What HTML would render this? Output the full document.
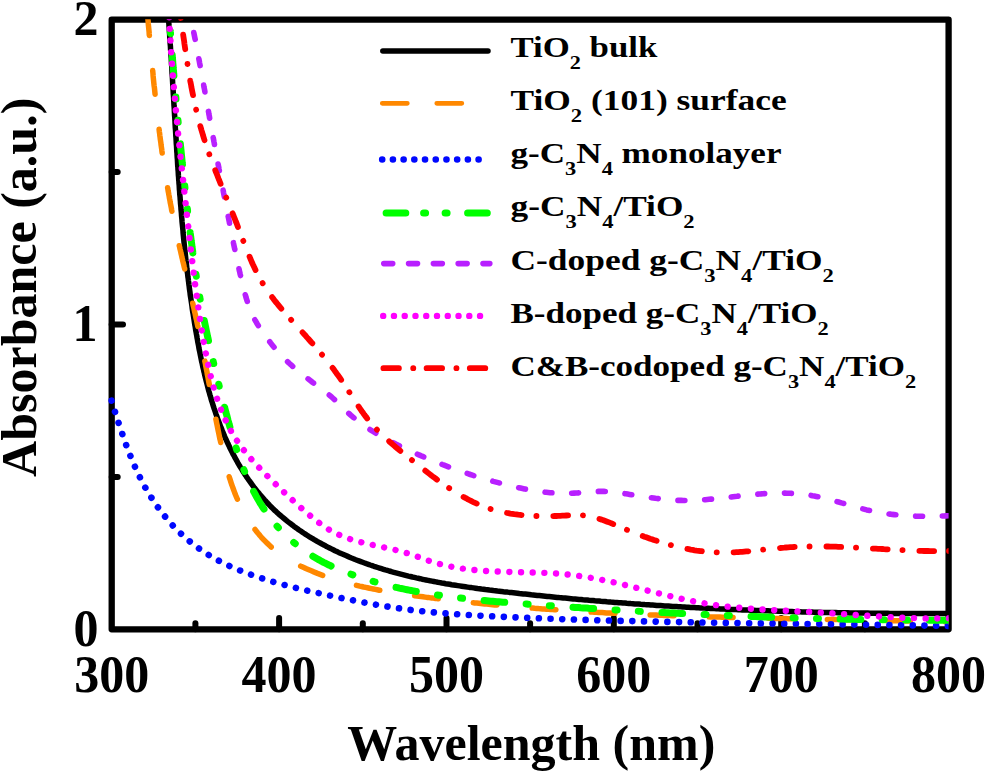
<!DOCTYPE html>
<html><head><meta charset="utf-8"><style>
html,body{margin:0;padding:0;background:#fff;width:987px;height:774px;overflow:hidden}
svg{display:block;font-family:"Liberation Serif",serif}
</style></head><body>
<svg width="987" height="774" viewBox="0 0 987 774">
<rect x="111.7" y="19.7" width="836.9" height="609.6" fill="none" stroke="#000" stroke-width="6.3" stroke-linejoin="round"/>
<g stroke="#000" stroke-width="6" stroke-linecap="round"><line x1="195.4" y1="629.3" x2="195.4" y2="623.3"/><line x1="279.1" y1="629.3" x2="279.1" y2="618.0"/><line x1="362.8" y1="629.3" x2="362.8" y2="623.3"/><line x1="446.5" y1="629.3" x2="446.5" y2="618.0"/><line x1="530.1" y1="629.3" x2="530.1" y2="623.3"/><line x1="613.8" y1="629.3" x2="613.8" y2="618.0"/><line x1="697.5" y1="629.3" x2="697.5" y2="623.3"/><line x1="781.2" y1="629.3" x2="781.2" y2="618.0"/><line x1="864.9" y1="629.3" x2="864.9" y2="623.3"/><line x1="111.7" y1="476.9" x2="117.7" y2="476.9"/><line x1="111.7" y1="324.5" x2="123.0" y2="324.5"/><line x1="111.7" y1="172.1" x2="117.7" y2="172.1"/></g>
<defs><clipPath id="pc"><rect x="108.2" y="19.2" width="840.4" height="621.6"/></clipPath></defs>
<g clip-path="url(#pc)">
<path d="M168.1,13.9 L168.3,15.9 L168.4,17.9 L168.6,19.9 L168.7,21.9 L168.9,23.9 L169.0,25.9 L169.2,27.9 L169.3,29.9 L169.4,31.9 L169.6,34.0 L169.7,36.0 L169.8,38.0 L170.0,40.0 L170.1,42.0 L170.2,44.0 L170.4,46.0 L170.5,48.0 L170.6,50.0 L170.8,52.0 L170.9,54.0 L171.0,56.0 L171.2,57.9 L171.3,59.9 L171.4,61.9 L171.5,63.9 L171.7,65.9 L171.8,67.9 L171.9,69.9 L172.0,71.9 L172.1,73.9 L172.3,75.9 L172.4,77.9 L172.5,79.9 L172.6,81.9 L172.7,83.9 L172.9,85.9 L173.0,87.9 L173.1,89.9 L173.2,91.9 L173.3,93.9 L173.5,95.9 L173.6,97.9 L173.7,99.9 L173.8,101.9 L173.9,103.9 L174.0,105.8 L174.2,107.8 L174.3,109.8 L174.4,111.8 L174.5,113.8 L174.6,115.8 L174.8,117.8 L174.9,119.8 L175.0,121.8 L175.1,123.8 L175.2,125.8 L175.3,127.8 L175.5,129.8 L175.6,131.7 L175.7,133.7 L175.8,135.7 L176.0,137.7 L176.1,139.7 L176.2,141.7 L176.3,143.7 L176.5,145.7 L176.6,147.7 L176.7,149.7 L176.8,151.6 L177.0,153.6 L177.1,155.6 L177.2,157.6 L177.4,159.6 L177.5,161.6 L177.6,163.6 L177.7,165.6 L177.9,167.6 L178.0,169.5 L178.2,171.5 L178.3,173.5 L178.4,175.5 L178.6,177.5 L178.7,179.5 L178.9,181.5 L179.0,183.5 L179.2,185.4 L179.3,187.4 L179.4,189.4 L179.6,191.4 L179.7,193.4 L179.9,195.4 L180.1,197.4 L180.2,199.3 L180.4,201.3 L180.5,203.3 L180.7,205.3 L180.9,207.3 L181.0,209.3 L181.2,211.2 L181.4,213.2 L181.5,215.2 L181.7,217.2 L181.9,219.2 L182.0,221.2 L182.2,223.2 L182.4,225.1 L182.6,227.1 L182.8,229.1 L183.0,231.1 L183.1,233.1 L183.3,235.1 L183.5,237.0 L183.7,239.0 L183.9,241.0 L184.1,243.0 L184.3,245.0 L184.5,246.9 L184.7,248.9 L184.9,250.9 L185.2,252.9 L185.4,254.9 L185.6,256.9 L185.8,258.8 L186.0,260.8 L186.3,262.8 L186.5,264.8 L186.7,266.8 L186.9,268.7 L187.2,270.7 L187.4,272.7 L187.7,274.7 L187.9,276.7 L188.2,278.6 L188.4,280.6 L188.7,282.6 L188.9,284.6 L189.2,286.6 L189.4,288.5 L189.7,290.5 L190.0,292.5 L190.2,294.5 L190.5,296.5 L190.8,298.4 L191.1,300.4 L191.4,302.4 L191.7,304.4 L192.0,306.4 L192.2,308.3 L192.5,310.3 L192.8,312.3 L193.2,314.3 L193.5,316.2 L193.8,318.2 L194.1,320.2 L194.4,322.2 L194.7,324.2 L195.1,326.1 L195.4,328.1 L195.7,330.1 L196.1,332.1 L196.4,334.0 L196.8,336.0 L197.1,338.0 L197.5,340.0 L197.8,342.0 L198.2,343.9 L198.6,345.9 L198.9,347.9 L199.3,349.9 L199.7,351.8 L200.1,353.8 L200.5,355.8 L200.9,357.7 L201.3,359.7 L201.7,361.7 L202.2,363.6 L202.6,365.6 L203.0,367.6 L203.5,369.5 L203.9,371.5 L204.4,373.4 L204.8,375.4 L205.3,377.4 L205.8,379.3 L206.3,381.2 L206.8,383.2 L207.3,385.1 L207.8,387.1 L208.3,389.0 L208.8,391.0 L209.4,392.9 L209.9,394.8 L210.5,396.7 L211.0,398.7 L211.6,400.6 L212.2,402.5 L212.8,404.4 L213.4,406.3 L214.0,408.2 L214.7,410.1 L215.3,412.0 L215.9,413.9 L216.6,415.8 L217.3,417.7 L218.0,419.6 L218.7,421.5 L219.4,423.3 L220.1,425.2 L220.8,427.1 L221.6,428.9 L222.3,430.8 L223.1,432.6 L223.9,434.5 L224.6,436.3 L225.4,438.2 L226.3,440.0 L227.1,441.8 L227.9,443.6 L228.8,445.4 L229.6,447.2 L230.5,449.0 L231.4,450.8 L232.3,452.6 L233.2,454.4 L234.2,456.1 L235.1,457.9 L236.1,459.6 L237.0,461.3 L238.0,463.1 L239.0,464.8 L240.0,466.5 L241.1,468.2 L242.1,469.9 L243.1,471.6 L244.2,473.2 L245.3,474.9 L246.4,476.6 L247.5,478.2 L248.6,479.8 L249.8,481.4 L250.9,483.0 L252.1,484.6 L253.2,486.2 L254.4,487.8 L255.6,489.3 L256.9,490.9 L258.1,492.4 L259.4,493.9 L260.6,495.4 L261.9,496.9 L263.2,498.4 L264.5,499.9 L265.9,501.3 L267.2,502.8 L268.6,504.2 L269.9,505.6 L271.3,507.0 L272.7,508.4 L274.1,509.8 L275.6,511.1 L277.0,512.4 L278.5,513.8 L280.0,515.1 L281.5,516.4 L283.0,517.6 L284.5,518.9 L286.0,520.2 L287.5,521.4 L289.1,522.6 L290.7,523.8 L292.3,525.0 L293.8,526.2 L295.4,527.4 L297.1,528.5 L298.7,529.7 L300.3,530.8 L302.0,531.9 L303.6,533.0 L305.3,534.1 L307.0,535.2 L308.7,536.3 L310.4,537.3 L312.1,538.3 L313.8,539.4 L315.5,540.4 L317.2,541.4 L319.0,542.4 L320.7,543.3 L322.5,544.3 L324.3,545.2 L326.0,546.2 L327.8,547.1 L329.6,548.0 L331.4,548.9 L333.2,549.8 L335.0,550.7 L336.8,551.5 L338.6,552.4 L340.4,553.2 L342.3,554.0 L344.1,554.8 L345.9,555.6 L347.8,556.4 L349.6,557.2 L351.5,558.0 L353.3,558.7 L355.2,559.5 L357.0,560.2 L358.9,560.9 L360.8,561.6 L362.6,562.3 L364.5,563.0 L366.4,563.7 L368.3,564.3 L370.2,565.0 L372.1,565.6 L373.9,566.3 L375.8,566.9 L377.7,567.5 L379.6,568.1 L381.5,568.7 L383.4,569.3 L385.4,569.9 L387.3,570.4 L389.2,571.0 L391.1,571.5 L393.0,572.1 L394.9,572.6 L396.9,573.1 L398.8,573.6 L400.7,574.1 L402.7,574.6 L404.6,575.1 L406.5,575.6 L408.5,576.1 L410.4,576.5 L412.4,577.0 L414.3,577.4 L416.3,577.9 L418.2,578.3 L420.2,578.7 L422.1,579.2 L424.1,579.6 L426.0,580.0 L428.0,580.4 L430.0,580.8 L431.9,581.1 L433.9,581.5 L435.9,581.9 L437.8,582.3 L439.8,582.6 L441.8,583.0 L443.7,583.3 L445.7,583.7 L447.7,584.0 L449.7,584.3 L451.6,584.7 L453.6,585.0 L455.6,585.3 L457.6,585.6 L459.6,585.9 L461.6,586.2 L463.5,586.5 L465.5,586.8 L467.5,587.1 L469.5,587.4 L471.5,587.6 L473.5,587.9 L475.5,588.2 L477.5,588.5 L479.5,588.7 L481.4,589.0 L483.4,589.2 L485.4,589.5 L487.4,589.7 L489.4,590.0 L491.4,590.2 L493.4,590.5 L495.4,590.7 L497.4,591.0 L499.4,591.2 L501.4,591.4 L503.4,591.7 L505.4,591.9 L507.4,592.1 L509.4,592.4 L511.4,592.6 L513.4,592.8 L515.4,593.0 L517.4,593.2 L519.3,593.5 L521.3,593.7 L523.3,593.9 L525.3,594.1 L527.3,594.3 L529.3,594.5 L531.3,594.8 L533.3,595.0 L535.3,595.2 L537.3,595.4 L539.3,595.6 L541.3,595.8 L543.3,596.0 L545.3,596.2 L547.3,596.4 L549.2,596.6 L551.2,596.8 L553.2,597.0 L555.2,597.2 L557.2,597.4 L559.2,597.6 L561.2,597.7 L563.2,597.9 L565.2,598.1 L567.2,598.3 L569.2,598.5 L571.1,598.7 L573.1,598.9 L575.1,599.0 L577.1,599.2 L579.1,599.4 L581.1,599.6 L583.1,599.8 L585.1,599.9 L587.1,600.1 L589.1,600.3 L591.0,600.4 L593.0,600.6 L595.0,600.8 L597.0,600.9 L599.0,601.1 L601.0,601.3 L603.0,601.4 L605.0,601.6 L607.0,601.8 L609.0,601.9 L610.9,602.1 L612.9,602.2 L614.9,602.4 L616.9,602.5 L618.9,602.7 L620.9,602.8 L622.9,603.0 L624.9,603.1 L626.8,603.3 L628.8,603.4 L630.8,603.6 L632.8,603.7 L634.8,603.9 L636.8,604.0 L638.8,604.1 L640.8,604.3 L642.8,604.4 L644.7,604.6 L646.7,604.7 L648.7,604.8 L650.7,605.0 L652.7,605.1 L654.7,605.2 L656.7,605.4 L658.7,605.5 L660.6,605.6 L662.6,605.7 L664.6,605.9 L666.6,606.0 L668.6,606.1 L670.6,606.2 L672.6,606.4 L674.6,606.5 L676.6,606.6 L678.5,606.7 L680.5,606.8 L682.5,606.9 L684.5,607.0 L686.5,607.2 L688.5,607.3 L690.5,607.4 L692.5,607.5 L694.4,607.6 L696.4,607.7 L698.4,607.8 L700.4,607.9 L702.4,608.0 L704.4,608.1 L706.4,608.2 L708.4,608.3 L710.4,608.4 L712.3,608.5 L714.3,608.6 L716.3,608.7 L718.3,608.8 L720.3,608.9 L722.3,609.0 L724.3,609.1 L726.3,609.2 L728.3,609.3 L730.3,609.4 L732.2,609.4 L734.2,609.5 L736.2,609.6 L738.2,609.7 L740.2,609.8 L742.2,609.9 L744.2,609.9 L746.2,610.0 L748.2,610.1 L750.2,610.2 L752.1,610.3 L754.1,610.3 L756.1,610.4 L758.1,610.5 L760.1,610.6 L762.1,610.6 L764.1,610.7 L766.1,610.8 L768.1,610.8 L770.1,610.9 L772.1,611.0 L774.0,611.0 L776.0,611.1 L778.0,611.2 L780.0,611.2 L782.0,611.3 L784.0,611.4 L786.0,611.4 L788.0,611.5 L790.0,611.5 L792.0,611.6 L794.0,611.7 L796.0,611.7 L798.0,611.8 L800.0,611.8 L802.0,611.9 L803.9,611.9 L805.9,612.0 L807.9,612.0 L809.9,612.1 L811.9,612.1 L813.9,612.2 L815.9,612.2 L817.9,612.3 L819.9,612.3 L821.9,612.4 L823.9,612.4 L825.9,612.4 L827.9,612.5 L829.9,612.5 L831.9,612.6 L833.9,612.6 L835.9,612.6 L837.9,612.7 L839.9,612.7 L841.9,612.7 L843.9,612.8 L845.9,612.8 L847.9,612.8 L849.9,612.9 L851.9,612.9 L853.9,612.9 L855.9,613.0 L857.9,613.0 L859.9,613.0 L861.9,613.1 L863.9,613.1 L865.9,613.1 L867.9,613.1 L869.9,613.2 L871.9,613.2 L873.9,613.2 L875.9,613.2 L877.9,613.3 L879.9,613.3 L881.9,613.3 L883.9,613.3 L885.9,613.3 L887.9,613.3 L889.9,613.4 L891.9,613.4 L893.9,613.4 L895.9,613.4 L897.9,613.4 L899.9,613.4 L901.9,613.4 L904.0,613.5 L906.0,613.5 L908.0,613.5 L910.0,613.5 L912.0,613.5 L914.0,613.5 L916.0,613.5 L918.0,613.5 L920.0,613.5 L922.0,613.5 L924.0,613.5 L926.0,613.5 L928.1,613.5 L930.1,613.5 L932.1,613.5 L934.1,613.5 L936.1,613.5 L938.1,613.5 L940.1,613.5 L942.1,613.5 L944.1,613.5 L946.2,613.5 L948.2,613.5 L950.2,613.5 L952.2,613.5" fill="none" stroke="#000000" stroke-width="5.5" stroke-linecap="round" stroke-linejoin="round"/>
<path d="M147.5,14.0 L147.6,16.0 L147.8,18.0 L148.0,20.0 L148.2,21.9 L148.3,23.9 L148.5,25.9 L148.7,27.9 L148.9,29.9 L149.1,31.9 L149.2,33.9 L149.4,35.9 L149.6,37.9 L149.8,39.9 L150.0,41.9 L150.1,43.9 L150.3,45.8 L150.5,47.8 L150.7,49.8 L150.9,51.8 L151.1,53.8 L151.2,55.8 L151.4,57.8 L151.6,59.8 L151.8,61.8 L152.0,63.8 L152.2,65.8 L152.4,67.7 L152.6,69.7 L152.8,71.7 L153.0,73.7 L153.1,75.7 L153.3,77.7 L153.5,79.7 L153.7,81.7 L153.9,83.7 L154.1,85.6 L154.4,87.6 L154.6,89.6 L154.8,91.6 L155.0,93.6 L155.2,95.6 L155.4,97.6 L155.6,99.6 L155.8,101.5 L156.0,103.5 L156.3,105.5 L156.5,107.5 L156.7,109.5 L156.9,111.5 L157.2,113.5 L157.4,115.4 L157.6,117.4 L157.9,119.4 L158.1,121.4 L158.3,123.4 L158.6,125.4 L158.8,127.4 L159.1,129.3 L159.3,131.3 L159.6,133.3 L159.8,135.3 L160.1,137.3 L160.3,139.2 L160.6,141.2 L160.9,143.2 L161.1,145.2 L161.4,147.2 L161.7,149.1 L161.9,151.1 L162.2,153.1 L162.5,155.1 L162.8,157.0 L163.1,159.0 L163.4,161.0 L163.6,163.0 L163.9,165.0 L164.2,166.9 L164.5,168.9 L164.9,170.9 L165.2,172.8 L165.5,174.8 L165.8,176.8 L166.1,178.8 L166.4,180.7 L166.8,182.7 L167.1,184.7 L167.4,186.6 L167.8,188.6 L168.1,190.6 L168.5,192.6 L168.8,194.5 L169.2,196.5 L169.5,198.5 L169.9,200.4 L170.2,202.4 L170.6,204.3 L171.0,206.3 L171.4,208.3 L171.7,210.2 L172.1,212.2 L172.5,214.2 L172.9,216.1 L173.3,218.1 L173.7,220.0 L174.1,222.0 L174.5,224.0 L174.9,225.9 L175.4,227.9 L175.8,229.8 L176.2,231.8 L176.6,233.7 L177.1,235.7 L177.5,237.6 L177.9,239.6 L178.4,241.6 L178.8,243.5 L179.2,245.5 L179.7,247.4 L180.1,249.4 L180.6,251.3 L181.0,253.3 L181.5,255.2 L181.9,257.2 L182.4,259.1 L182.8,261.1 L183.3,263.0 L183.8,265.0 L184.2,266.9 L184.7,268.9 L185.1,270.8 L185.6,272.8 L186.0,274.7 L186.5,276.7 L187.0,278.6 L187.4,280.6 L187.9,282.5 L188.3,284.4 L188.8,286.4 L189.3,288.3 L189.7,290.3 L190.2,292.2 L190.6,294.2 L191.1,296.1 L191.5,298.1 L192.0,300.0 L192.4,302.0 L192.9,303.9 L193.3,305.9 L193.8,307.8 L194.2,309.8 L194.6,311.7 L195.1,313.6 L195.5,315.6 L195.9,317.5 L196.4,319.5 L196.8,321.4 L197.2,323.4 L197.6,325.3 L198.1,327.3 L198.5,329.2 L198.9,331.2 L199.3,333.1 L199.7,335.1 L200.1,337.0 L200.5,339.0 L200.9,340.9 L201.3,342.9 L201.7,344.8 L202.1,346.8 L202.4,348.7 L202.8,350.7 L203.2,352.6 L203.6,354.6 L204.0,356.5 L204.4,358.5 L204.7,360.4 L205.1,362.4 L205.5,364.3 L205.8,366.3 L206.2,368.2 L206.6,370.2 L207.0,372.1 L207.3,374.1 L207.7,376.0 L208.1,378.0 L208.4,379.9 L208.8,381.9 L209.2,383.9 L209.5,385.8 L209.9,387.8 L210.3,389.7 L210.6,391.7 L211.0,393.7 L211.4,395.6 L211.8,397.6 L212.1,399.5 L212.5,401.5 L212.9,403.5 L213.2,405.4 L213.6,407.4 L214.0,409.4 L214.4,411.3 L214.8,413.3 L215.1,415.3 L215.5,417.2 L215.9,419.2 L216.3,421.2 L216.7,423.2 L217.1,425.1 L217.5,427.1 L217.9,429.1 L218.3,431.1 L218.7,433.0 L219.1,435.0 L219.5,437.0 L219.9,439.0 L220.4,440.9 L220.8,442.9 L221.2,444.9 L221.6,446.9 L222.1,448.9 L222.5,450.9 L223.0,452.8 L223.4,454.8 L223.9,456.8 L224.4,458.8 L224.8,460.7 L225.3,462.7 L225.8,464.7 L226.3,466.6 L226.9,468.6 L227.4,470.5 L228.0,472.5 L228.5,474.4 L229.1,476.4 L229.7,478.3 L230.3,480.2 L230.9,482.1 L231.5,484.0 L232.2,485.9 L232.9,487.8 L233.6,489.7 L234.3,491.6 L235.0,493.5 L235.7,495.3 L236.5,497.2 L237.3,499.0 L238.1,500.8 L238.9,502.6 L239.8,504.4 L240.7,506.2 L241.5,508.0 L242.5,509.8 L243.4,511.5 L244.4,513.3 L245.3,515.0 L246.3,516.7 L247.4,518.4 L248.4,520.0 L249.5,521.7 L250.6,523.3 L251.7,525.0 L252.8,526.6 L254.0,528.2 L255.2,529.7 L256.4,531.3 L257.6,532.8 L258.9,534.3 L260.1,535.8 L261.4,537.3 L262.7,538.7 L264.1,540.1 L265.5,541.5 L266.8,542.9 L268.3,544.2 L269.7,545.6 L271.1,546.9 L272.6,548.1 L274.1,549.4 L275.7,550.6 L277.2,551.8 L278.8,553.0 L280.4,554.1 L282.0,555.3 L283.6,556.4 L285.3,557.4 L287.0,558.5 L288.7,559.5 L290.4,560.5 L292.1,561.5 L293.8,562.5 L295.6,563.4 L297.3,564.4 L299.1,565.3 L300.9,566.2 L302.7,567.0 L304.5,567.9 L306.4,568.7 L308.2,569.5 L310.1,570.3 L311.9,571.1 L313.8,571.9 L315.6,572.6 L317.5,573.4 L319.4,574.1 L321.3,574.8 L323.2,575.5 L325.1,576.1 L326.9,576.8 L328.8,577.4 L330.8,578.1 L332.7,578.7 L334.6,579.3 L336.5,579.9 L338.4,580.5 L340.3,581.0 L342.2,581.6 L344.2,582.1 L346.1,582.7 L348.0,583.2 L350.0,583.7 L351.9,584.2 L353.8,584.7 L355.8,585.2 L357.7,585.6 L359.7,586.1 L361.6,586.5 L363.6,587.0 L365.6,587.4 L367.5,587.8 L369.5,588.2 L371.4,588.6 L373.4,589.0 L375.4,589.4 L377.3,589.8 L379.3,590.2 L381.3,590.5 L383.3,590.9 L385.2,591.2 L387.2,591.6 L389.2,591.9 L391.2,592.2 L393.2,592.6 L395.1,592.9 L397.1,593.2 L399.1,593.5 L401.1,593.8 L403.1,594.1 L405.1,594.4 L407.1,594.7 L409.0,595.0 L411.0,595.2 L413.0,595.5 L415.0,595.8 L417.0,596.1 L419.0,596.3 L421.0,596.6 L423.0,596.8 L425.0,597.1 L427.0,597.4 L429.0,597.6 L431.0,597.9 L432.9,598.1 L434.9,598.4 L436.9,598.6 L438.9,598.9 L440.9,599.1 L442.9,599.3 L444.9,599.6 L446.9,599.8 L448.9,600.0 L450.9,600.3 L452.9,600.5 L454.9,600.7 L456.8,601.0 L458.8,601.2 L460.8,601.4 L462.8,601.6 L464.8,601.8 L466.8,602.0 L468.8,602.3 L470.8,602.5 L472.8,602.7 L474.8,602.9 L476.8,603.1 L478.8,603.3 L480.8,603.5 L482.7,603.7 L484.7,603.9 L486.7,604.1 L488.7,604.3 L490.7,604.5 L492.7,604.7 L494.7,604.9 L496.7,605.0 L498.7,605.2 L500.7,605.4 L502.7,605.6 L504.7,605.8 L506.7,605.9 L508.6,606.1 L510.6,606.3 L512.6,606.5 L514.6,606.6 L516.6,606.8 L518.6,607.0 L520.6,607.1 L522.6,607.3 L524.6,607.5 L526.6,607.6 L528.6,607.8 L530.6,608.0 L532.6,608.1 L534.6,608.3 L536.6,608.4 L538.5,608.6 L540.5,608.7 L542.5,608.9 L544.5,609.0 L546.5,609.2 L548.5,609.3 L550.5,609.4 L552.5,609.6 L554.5,609.7 L556.5,609.9 L558.5,610.0 L560.5,610.1 L562.5,610.3 L564.5,610.4 L566.5,610.5 L568.4,610.7 L570.4,610.8 L572.4,610.9 L574.4,611.0 L576.4,611.2 L578.4,611.3 L580.4,611.4 L582.4,611.5 L584.4,611.6 L586.4,611.8 L588.4,611.9 L590.4,612.0 L592.4,612.1 L594.4,612.2 L596.4,612.3 L598.4,612.4 L600.3,612.5 L602.3,612.6 L604.3,612.7 L606.3,612.9 L608.3,613.0 L610.3,613.1 L612.3,613.2 L614.3,613.3 L616.3,613.4 L618.3,613.5 L620.3,613.5 L622.3,613.6 L624.3,613.7 L626.3,613.8 L628.3,613.9 L630.3,614.0 L632.3,614.1 L634.3,614.2 L636.2,614.3 L638.2,614.4 L640.2,614.4 L642.2,614.5 L644.2,614.6 L646.2,614.7 L648.2,614.8 L650.2,614.9 L652.2,614.9 L654.2,615.0 L656.2,615.1 L658.2,615.2 L660.2,615.2 L662.2,615.3 L664.2,615.4 L666.2,615.5 L668.2,615.5 L670.2,615.6 L672.2,615.7 L674.2,615.7 L676.2,615.8 L678.1,615.9 L680.1,616.0 L682.1,616.0 L684.1,616.1 L686.1,616.1 L688.1,616.2 L690.1,616.3 L692.1,616.3 L694.1,616.4 L696.1,616.5 L698.1,616.5 L700.1,616.6 L702.1,616.6 L704.1,616.7 L706.1,616.8 L708.1,616.8 L710.1,616.9 L712.1,616.9 L714.1,617.0 L716.1,617.0 L718.1,617.1 L720.1,617.1 L722.1,617.2 L724.1,617.2 L726.1,617.3 L728.1,617.3 L730.1,617.4 L732.1,617.4 L734.0,617.5 L736.0,617.5 L738.0,617.6 L740.0,617.6 L742.0,617.7 L744.0,617.7 L746.0,617.8 L748.0,617.8 L750.0,617.9 L752.0,617.9 L754.0,618.0 L756.0,618.0 L758.0,618.0 L760.0,618.1 L762.0,618.1 L764.0,618.2 L766.0,618.2 L768.0,618.3 L770.0,618.3 L772.0,618.3 L774.0,618.4 L776.0,618.4 L778.0,618.5 L780.0,618.5 L782.0,618.5 L784.0,618.6 L786.0,618.6 L788.0,618.7 L790.0,618.7 L792.0,618.7 L794.0,618.8 L796.0,618.8 L798.0,618.9 L800.0,618.9 L802.0,618.9 L804.0,619.0 L806.0,619.0 L808.0,619.0 L810.0,619.1 L812.0,619.1 L814.0,619.2 L816.0,619.2 L818.0,619.2 L820.0,619.3 L822.0,619.3 L824.0,619.3 L826.0,619.4 L828.0,619.4 L830.0,619.5 L832.0,619.5 L834.0,619.5 L836.0,619.6 L838.0,619.6 L840.0,619.6 L842.0,619.7 L844.0,619.7 L846.0,619.8 L848.0,619.8 L850.0,619.8 L852.0,619.9 L854.0,619.9 L856.0,619.9 L858.0,620.0 L860.0,620.0 L862.0,620.1 L864.0,620.1 L866.0,620.1 L868.0,620.2 L870.0,620.2 L872.0,620.3 L874.0,620.3 L876.0,620.3 L878.0,620.4 L880.0,620.4 L882.0,620.5 L884.0,620.5 L886.0,620.5 L888.0,620.6 L890.0,620.6 L892.0,620.7 L894.0,620.7 L896.0,620.7 L898.0,620.8 L900.0,620.8 L902.0,620.9 L904.0,620.9 L906.0,621.0 L908.0,621.0 L910.0,621.1 L912.0,621.1 L914.0,621.2 L916.0,621.2 L918.0,621.2 L920.0,621.3 L922.0,621.3 L924.0,621.4 L926.0,621.4 L928.0,621.5 L930.0,621.5 L932.0,621.6 L934.0,621.6 L936.0,621.7 L938.0,621.8 L940.0,621.8 L942.1,621.9 L944.1,621.9 L946.1,622.0 L948.1,622.0 L950.1,622.1 L952.1,622.1" fill="none" stroke="#ff8800" stroke-width="5.5" stroke-linecap="round" stroke-linejoin="round" stroke-dasharray="23.85 35.26" stroke-dashoffset="2.28"/>
<path d="M110.7,398.2 L111.3,400.0 L111.9,401.9 L112.5,403.7 L113.1,405.6 L113.6,407.4 L114.2,409.3 L114.8,411.2 L115.4,413.0 L116.0,414.9 L116.6,416.8 L117.2,418.7 L117.8,420.6 L118.4,422.5 L119.1,424.4 L119.7,426.3 L120.3,428.1 L121.0,430.0 L121.6,431.9 L122.3,433.9 L122.9,435.8 L123.6,437.7 L124.2,439.6 L124.9,441.5 L125.6,443.4 L126.3,445.3 L127.0,447.1 L127.7,449.0 L128.5,450.9 L129.2,452.8 L129.9,454.7 L130.7,456.6 L131.5,458.5 L132.2,460.3 L133.0,462.2 L133.8,464.1 L134.6,465.9 L135.4,467.8 L136.3,469.6 L137.1,471.4 L138.0,473.3 L138.8,475.1 L139.7,476.9 L140.6,478.7 L141.5,480.5 L142.5,482.3 L143.4,484.0 L144.4,485.8 L145.3,487.6 L146.3,489.3 L147.3,491.0 L148.3,492.7 L149.4,494.5 L150.4,496.1 L151.5,497.8 L152.6,499.5 L153.7,501.2 L154.8,502.8 L155.9,504.4 L157.0,506.1 L158.2,507.7 L159.4,509.3 L160.5,510.8 L161.7,512.4 L163.0,514.0 L164.2,515.5 L165.4,517.0 L166.7,518.6 L168.0,520.0 L169.3,521.5 L170.6,523.0 L171.9,524.5 L173.2,525.9 L174.6,527.3 L175.9,528.7 L177.3,530.1 L178.7,531.5 L180.1,532.9 L181.6,534.2 L183.0,535.5 L184.4,536.8 L185.9,538.1 L187.4,539.4 L188.9,540.7 L190.4,541.9 L191.9,543.2 L193.4,544.4 L195.0,545.6 L196.6,546.7 L198.1,547.9 L199.7,549.0 L201.3,550.2 L202.9,551.3 L204.6,552.4 L206.2,553.4 L207.9,554.5 L209.6,555.5 L211.2,556.5 L212.9,557.5 L214.7,558.5 L216.4,559.4 L218.1,560.4 L219.9,561.3 L221.6,562.2 L223.4,563.1 L225.2,564.0 L227.0,564.8 L228.8,565.7 L230.6,566.5 L232.4,567.3 L234.2,568.1 L236.0,568.9 L237.9,569.7 L239.7,570.4 L241.6,571.2 L243.5,571.9 L245.3,572.6 L247.2,573.3 L249.1,574.0 L251.0,574.7 L252.9,575.4 L254.8,576.0 L256.7,576.7 L258.6,577.3 L260.6,577.9 L262.5,578.5 L264.4,579.2 L266.3,579.8 L268.3,580.3 L270.2,580.9 L272.1,581.5 L274.1,582.1 L276.0,582.6 L278.0,583.2 L279.9,583.7 L281.9,584.2 L283.8,584.8 L285.8,585.3 L287.7,585.8 L289.7,586.3 L291.6,586.8 L293.6,587.3 L295.6,587.8 L297.5,588.3 L299.5,588.7 L301.4,589.2 L303.4,589.7 L305.4,590.1 L307.3,590.6 L309.3,591.0 L311.3,591.5 L313.2,591.9 L315.2,592.4 L317.2,592.8 L319.1,593.2 L321.1,593.7 L323.1,594.1 L325.0,594.5 L327.0,594.9 L329.0,595.4 L330.9,595.8 L332.9,596.2 L334.8,596.6 L336.8,597.0 L338.8,597.4 L340.7,597.9 L342.7,598.3 L344.6,598.7 L346.6,599.1 L348.6,599.5 L350.5,599.9 L352.5,600.2 L354.4,600.6 L356.4,601.0 L358.3,601.4 L360.3,601.8 L362.3,602.2 L364.2,602.5 L366.2,602.9 L368.1,603.3 L370.1,603.6 L372.0,604.0 L374.0,604.3 L376.0,604.7 L377.9,605.0 L379.9,605.4 L381.8,605.7 L383.8,606.0 L385.8,606.3 L387.7,606.6 L389.7,607.0 L391.6,607.3 L393.6,607.6 L395.6,607.8 L397.5,608.1 L399.5,608.4 L401.5,608.7 L403.4,609.0 L405.4,609.2 L407.4,609.5 L409.3,609.7 L411.3,610.0 L413.3,610.2 L415.3,610.4 L417.2,610.7 L419.2,610.9 L421.2,611.1 L423.2,611.3 L425.1,611.5 L427.1,611.7 L429.1,611.9 L431.1,612.1 L433.1,612.3 L435.0,612.5 L437.0,612.7 L439.0,612.8 L441.0,613.0 L443.0,613.2 L445.0,613.3 L446.9,613.5 L448.9,613.7 L450.9,613.8 L452.9,614.0 L454.9,614.1 L456.9,614.2 L458.9,614.4 L460.9,614.5 L462.8,614.7 L464.8,614.8 L466.8,614.9 L468.8,615.0 L470.8,615.2 L472.8,615.3 L474.8,615.4 L476.8,615.5 L478.8,615.6 L480.8,615.7 L482.8,615.8 L484.8,615.9 L486.7,616.0 L488.7,616.1 L490.7,616.2 L492.7,616.3 L494.7,616.4 L496.7,616.5 L498.7,616.6 L500.7,616.7 L502.7,616.8 L504.7,616.9 L506.7,617.0 L508.7,617.1 L510.7,617.2 L512.7,617.2 L514.7,617.3 L516.7,617.4 L518.7,617.5 L520.7,617.6 L522.6,617.7 L524.6,617.7 L526.6,617.8 L528.6,617.9 L530.6,618.0 L532.6,618.1 L534.6,618.1 L536.6,618.2 L538.6,618.3 L540.6,618.4 L542.6,618.4 L544.6,618.5 L546.6,618.6 L548.6,618.7 L550.6,618.7 L552.6,618.8 L554.6,618.9 L556.6,619.0 L558.6,619.0 L560.6,619.1 L562.6,619.2 L564.6,619.2 L566.6,619.3 L568.6,619.4 L570.6,619.4 L572.5,619.5 L574.5,619.6 L576.5,619.6 L578.5,619.7 L580.5,619.7 L582.5,619.8 L584.5,619.9 L586.5,619.9 L588.5,620.0 L590.5,620.0 L592.5,620.1 L594.5,620.2 L596.5,620.2 L598.5,620.3 L600.5,620.3 L602.5,620.4 L604.5,620.4 L606.5,620.5 L608.5,620.5 L610.5,620.6 L612.5,620.6 L614.5,620.7 L616.5,620.8 L618.5,620.8 L620.5,620.9 L622.5,620.9 L624.5,621.0 L626.5,621.0 L628.5,621.0 L630.5,621.1 L632.5,621.1 L634.5,621.2 L636.5,621.2 L638.4,621.3 L640.4,621.3 L642.4,621.4 L644.4,621.4 L646.4,621.5 L648.4,621.5 L650.4,621.5 L652.4,621.6 L654.4,621.6 L656.4,621.7 L658.4,621.7 L660.4,621.8 L662.4,621.8 L664.4,621.8 L666.4,621.9 L668.4,621.9 L670.4,622.0 L672.4,622.0 L674.4,622.0 L676.4,622.1 L678.4,622.1 L680.4,622.1 L682.4,622.2 L684.4,622.2 L686.4,622.2 L688.4,622.3 L690.4,622.3 L692.4,622.4 L694.4,622.4 L696.4,622.4 L698.4,622.5 L700.4,622.5 L702.4,622.5 L704.4,622.6 L706.4,622.6 L708.4,622.6 L710.4,622.7 L712.4,622.7 L714.4,622.7 L716.4,622.7 L718.4,622.8 L720.4,622.8 L722.4,622.8 L724.4,622.9 L726.4,622.9 L728.4,622.9 L730.4,623.0 L732.3,623.0 L734.3,623.0 L736.3,623.0 L738.3,623.1 L740.3,623.1 L742.3,623.1 L744.3,623.2 L746.3,623.2 L748.3,623.2 L750.3,623.2 L752.3,623.3 L754.3,623.3 L756.3,623.3 L758.3,623.3 L760.3,623.4 L762.3,623.4 L764.3,623.4 L766.3,623.5 L768.3,623.5 L770.3,623.5 L772.3,623.5 L774.3,623.6 L776.3,623.6 L778.3,623.6 L780.3,623.6 L782.3,623.7 L784.3,623.7 L786.3,623.7 L788.3,623.7 L790.3,623.8 L792.3,623.8 L794.3,623.8 L796.3,623.8 L798.3,623.9 L800.3,623.9 L802.3,623.9 L804.3,623.9 L806.3,624.0 L808.3,624.0 L810.3,624.0 L812.3,624.0 L814.3,624.1 L816.3,624.1 L818.3,624.1 L820.2,624.1 L822.2,624.2 L824.2,624.2 L826.2,624.2 L828.2,624.2 L830.2,624.3 L832.2,624.3 L834.2,624.3 L836.2,624.3 L838.2,624.4 L840.2,624.4 L842.2,624.4 L844.2,624.4 L846.2,624.5 L848.2,624.5 L850.2,624.5 L852.2,624.5 L854.2,624.6 L856.2,624.6 L858.2,624.6 L860.2,624.6 L862.2,624.7 L864.2,624.7 L866.2,624.7 L868.2,624.8 L870.2,624.8 L872.2,624.8 L874.2,624.8 L876.2,624.9 L878.2,624.9 L880.2,624.9 L882.1,624.9 L884.1,625.0 L886.1,625.0 L888.1,625.0 L890.1,625.1 L892.1,625.1 L894.1,625.1 L896.1,625.2 L898.1,625.2 L900.1,625.2 L902.1,625.2 L904.1,625.3 L906.1,625.3 L908.1,625.3 L910.1,625.4 L912.1,625.4 L914.1,625.4 L916.1,625.5 L918.1,625.5 L920.1,625.5 L922.1,625.6 L924.1,625.6 L926.1,625.6 L928.0,625.7 L930.0,625.7 L932.0,625.7 L934.0,625.8 L936.0,625.8 L938.0,625.8 L940.0,625.9 L942.0,625.9 L944.0,626.0 L946.0,626.0 L948.0,626.0 L950.0,626.1 L952.0,626.1" fill="none" stroke="#0008ff" stroke-width="6.6" stroke-linecap="round" stroke-linejoin="round" stroke-dasharray="0.01 11.68" stroke-dashoffset="9.10"/>
<path d="M169.2,14.1 L169.3,16.1 L169.4,18.0 L169.6,20.0 L169.7,22.0 L169.9,24.0 L170.0,26.0 L170.1,28.0 L170.3,30.0 L170.4,32.0 L170.6,34.0 L170.7,36.0 L170.9,37.9 L171.0,39.9 L171.2,41.9 L171.3,43.9 L171.5,45.9 L171.6,47.9 L171.8,49.9 L171.9,51.9 L172.1,53.9 L172.3,55.8 L172.4,57.8 L172.6,59.8 L172.7,61.8 L172.9,63.8 L173.1,65.8 L173.2,67.8 L173.4,69.8 L173.6,71.8 L173.7,73.8 L173.9,75.8 L174.1,77.7 L174.3,79.7 L174.4,81.7 L174.6,83.7 L174.8,85.7 L175.0,87.7 L175.1,89.7 L175.3,91.7 L175.5,93.7 L175.7,95.7 L175.9,97.6 L176.0,99.6 L176.2,101.6 L176.4,103.6 L176.6,105.6 L176.8,107.6 L177.0,109.6 L177.1,111.6 L177.3,113.6 L177.5,115.6 L177.7,117.5 L177.9,119.5 L178.1,121.5 L178.3,123.5 L178.5,125.5 L178.7,127.5 L178.9,129.5 L179.1,131.5 L179.3,133.5 L179.5,135.5 L179.7,137.5 L179.9,139.4 L180.1,141.4 L180.3,143.4 L180.5,145.4 L180.7,147.4 L180.9,149.4 L181.1,151.4 L181.3,153.4 L181.5,155.4 L181.7,157.4 L181.9,159.3 L182.1,161.3 L182.3,163.3 L182.6,165.3 L182.8,167.3 L183.0,169.3 L183.2,171.3 L183.4,173.3 L183.6,175.3 L183.8,177.3 L184.0,179.2 L184.3,181.2 L184.5,183.2 L184.7,185.2 L184.9,187.2 L185.1,189.2 L185.4,191.2 L185.6,193.2 L185.8,195.2 L186.0,197.2 L186.2,199.1 L186.5,201.1 L186.7,203.1 L186.9,205.1 L187.1,207.1 L187.4,209.1 L187.6,211.1 L187.8,213.1 L188.1,215.0 L188.3,217.0 L188.5,219.0 L188.8,221.0 L189.0,223.0 L189.2,225.0 L189.5,227.0 L189.7,228.9 L190.0,230.9 L190.2,232.9 L190.5,234.9 L190.7,236.9 L191.0,238.8 L191.2,240.8 L191.5,242.8 L191.8,244.8 L192.0,246.8 L192.3,248.7 L192.6,250.7 L192.8,252.7 L193.1,254.7 L193.4,256.6 L193.7,258.6 L194.0,260.6 L194.2,262.6 L194.5,264.5 L194.8,266.5 L195.1,268.5 L195.4,270.4 L195.7,272.4 L196.0,274.4 L196.3,276.3 L196.6,278.3 L196.9,280.3 L197.3,282.2 L197.6,284.2 L197.9,286.1 L198.2,288.1 L198.6,290.0 L198.9,292.0 L199.2,294.0 L199.6,295.9 L199.9,297.9 L200.3,299.8 L200.6,301.8 L201.0,303.7 L201.4,305.7 L201.7,307.6 L202.1,309.5 L202.5,311.5 L202.8,313.4 L203.2,315.4 L203.6,317.3 L204.0,319.3 L204.4,321.2 L204.8,323.1 L205.2,325.1 L205.6,327.0 L206.0,329.0 L206.4,330.9 L206.8,332.8 L207.2,334.8 L207.6,336.7 L208.1,338.6 L208.5,340.6 L208.9,342.5 L209.3,344.5 L209.8,346.4 L210.2,348.3 L210.6,350.3 L211.1,352.2 L211.5,354.1 L212.0,356.1 L212.4,358.0 L212.9,360.0 L213.3,361.9 L213.8,363.8 L214.3,365.8 L214.7,367.7 L215.2,369.7 L215.7,371.6 L216.1,373.6 L216.6,375.5 L217.1,377.5 L217.6,379.4 L218.0,381.4 L218.5,383.3 L219.0,385.3 L219.5,387.2 L220.0,389.2 L220.5,391.1 L221.0,393.1 L221.5,395.1 L222.0,397.0 L222.5,399.0 L223.0,400.9 L223.5,402.9 L224.0,404.9 L224.5,406.8 L225.0,408.8 L225.5,410.8 L226.0,412.8 L226.6,414.7 L227.1,416.7 L227.6,418.7 L228.1,420.7 L228.7,422.6 L229.2,424.6 L229.8,426.6 L230.3,428.6 L230.9,430.5 L231.4,432.5 L232.0,434.5 L232.6,436.4 L233.2,438.4 L233.7,440.3 L234.3,442.3 L234.9,444.2 L235.6,446.2 L236.2,448.1 L236.8,450.1 L237.4,452.0 L238.1,453.9 L238.8,455.8 L239.4,457.8 L240.1,459.7 L240.8,461.6 L241.5,463.5 L242.2,465.4 L242.9,467.3 L243.6,469.1 L244.4,471.0 L245.1,472.9 L245.9,474.7 L246.7,476.6 L247.5,478.4 L248.3,480.2 L249.1,482.0 L249.9,483.8 L250.8,485.6 L251.7,487.4 L252.5,489.2 L253.4,491.0 L254.3,492.7 L255.3,494.5 L256.2,496.2 L257.2,497.9 L258.1,499.6 L259.1,501.3 L260.1,503.0 L261.2,504.7 L262.2,506.3 L263.3,508.0 L264.3,509.6 L265.4,511.2 L266.6,512.8 L267.7,514.4 L268.9,516.0 L270.0,517.5 L271.2,519.1 L272.4,520.6 L273.7,522.1 L274.9,523.6 L276.2,525.1 L277.4,526.6 L278.7,528.0 L280.1,529.4 L281.4,530.9 L282.7,532.3 L284.1,533.6 L285.5,535.0 L286.9,536.3 L288.3,537.7 L289.8,539.0 L291.2,540.3 L292.7,541.6 L294.2,542.8 L295.7,544.1 L297.2,545.3 L298.7,546.5 L300.3,547.7 L301.8,548.8 L303.4,550.0 L305.0,551.1 L306.6,552.2 L308.2,553.3 L309.9,554.4 L311.6,555.4 L313.2,556.5 L314.9,557.5 L316.6,558.5 L318.3,559.5 L320.1,560.4 L321.8,561.4 L323.5,562.3 L325.3,563.2 L327.1,564.1 L328.9,565.0 L330.7,565.8 L332.5,566.7 L334.3,567.5 L336.1,568.3 L337.9,569.1 L339.8,569.9 L341.6,570.6 L343.5,571.4 L345.4,572.1 L347.2,572.8 L349.1,573.5 L351.0,574.2 L352.9,574.9 L354.8,575.6 L356.7,576.3 L358.6,576.9 L360.5,577.5 L362.4,578.2 L364.4,578.8 L366.3,579.4 L368.2,580.0 L370.2,580.5 L372.1,581.1 L374.0,581.7 L376.0,582.2 L377.9,582.7 L379.8,583.3 L381.8,583.8 L383.7,584.3 L385.7,584.8 L387.6,585.3 L389.6,585.8 L391.5,586.3 L393.5,586.7 L395.4,587.2 L397.4,587.6 L399.3,588.1 L401.3,588.5 L403.3,588.9 L405.2,589.3 L407.2,589.7 L409.1,590.1 L411.1,590.5 L413.1,590.9 L415.1,591.3 L417.0,591.6 L419.0,592.0 L421.0,592.4 L422.9,592.7 L424.9,593.0 L426.9,593.4 L428.9,593.7 L430.9,594.0 L432.8,594.3 L434.8,594.6 L436.8,594.9 L438.8,595.2 L440.8,595.5 L442.8,595.8 L444.7,596.1 L446.7,596.4 L448.7,596.6 L450.7,596.9 L452.7,597.1 L454.7,597.4 L456.7,597.6 L458.7,597.9 L460.7,598.1 L462.7,598.3 L464.7,598.6 L466.7,598.8 L468.7,599.0 L470.7,599.2 L472.7,599.4 L474.7,599.6 L476.7,599.8 L478.7,600.0 L480.7,600.2 L482.7,600.4 L484.7,600.6 L486.7,600.8 L488.7,601.0 L490.7,601.2 L492.7,601.3 L494.7,601.5 L496.7,601.7 L498.7,601.8 L500.7,602.0 L502.7,602.2 L504.7,602.3 L506.7,602.5 L508.7,602.7 L510.7,602.8 L512.7,603.0 L514.7,603.1 L516.7,603.3 L518.7,603.4 L520.7,603.6 L522.7,603.7 L524.7,603.9 L526.7,604.0 L528.7,604.2 L530.7,604.3 L532.7,604.5 L534.7,604.6 L536.7,604.7 L538.7,604.9 L540.7,605.0 L542.7,605.2 L544.7,605.3 L546.7,605.5 L548.7,605.6 L550.7,605.7 L552.7,605.9 L554.7,606.0 L556.7,606.2 L558.7,606.3 L560.7,606.4 L562.7,606.6 L564.7,606.7 L566.7,606.8 L568.7,607.0 L570.7,607.1 L572.7,607.2 L574.7,607.4 L576.7,607.5 L578.7,607.6 L580.7,607.8 L582.7,607.9 L584.7,608.0 L586.6,608.1 L588.6,608.3 L590.6,608.4 L592.6,608.5 L594.6,608.6 L596.6,608.8 L598.6,608.9 L600.6,609.0 L602.6,609.1 L604.6,609.3 L606.6,609.4 L608.6,609.5 L610.6,609.6 L612.6,609.7 L614.6,609.9 L616.6,610.0 L618.6,610.1 L620.5,610.2 L622.5,610.3 L624.5,610.5 L626.5,610.6 L628.5,610.7 L630.5,610.8 L632.5,610.9 L634.5,611.0 L636.5,611.1 L638.5,611.2 L640.5,611.4 L642.5,611.5 L644.5,611.6 L646.4,611.7 L648.4,611.8 L650.4,611.9 L652.4,612.0 L654.4,612.1 L656.4,612.2 L658.4,612.3 L660.4,612.4 L662.4,612.5 L664.4,612.6 L666.4,612.7 L668.4,612.8 L670.3,612.9 L672.3,613.0 L674.3,613.1 L676.3,613.2 L678.3,613.3 L680.3,613.4 L682.3,613.5 L684.3,613.6 L686.3,613.7 L688.3,613.8 L690.2,613.9 L692.2,614.0 L694.2,614.1 L696.2,614.2 L698.2,614.3 L700.2,614.4 L702.2,614.5 L704.2,614.5 L706.2,614.6 L708.2,614.7 L710.2,614.8 L712.1,614.9 L714.1,615.0 L716.1,615.1 L718.1,615.2 L720.1,615.2 L722.1,615.3 L724.1,615.4 L726.1,615.5 L728.1,615.6 L730.1,615.6 L732.1,615.7 L734.0,615.8 L736.0,615.9 L738.0,616.0 L740.0,616.0 L742.0,616.1 L744.0,616.2 L746.0,616.3 L748.0,616.3 L750.0,616.4 L752.0,616.5 L754.0,616.6 L756.0,616.6 L758.0,616.7 L759.9,616.8 L761.9,616.8 L763.9,616.9 L765.9,617.0 L767.9,617.0 L769.9,617.1 L771.9,617.2 L773.9,617.2 L775.9,617.3 L777.9,617.4 L779.9,617.4 L781.9,617.5 L783.9,617.6 L785.9,617.6 L787.8,617.7 L789.8,617.7 L791.8,617.8 L793.8,617.9 L795.8,617.9 L797.8,618.0 L799.8,618.0 L801.8,618.1 L803.8,618.2 L805.8,618.2 L807.8,618.3 L809.8,618.3 L811.8,618.4 L813.8,618.4 L815.8,618.5 L817.8,618.5 L819.8,618.6 L821.8,618.6 L823.8,618.7 L825.8,618.7 L827.8,618.8 L829.8,618.8 L831.8,618.9 L833.8,618.9 L835.8,618.9 L837.7,619.0 L839.7,619.0 L841.7,619.1 L843.7,619.1 L845.7,619.2 L847.7,619.2 L849.7,619.2 L851.7,619.3 L853.7,619.3 L855.7,619.3 L857.7,619.4 L859.7,619.4 L861.7,619.5 L863.8,619.5 L865.8,619.5 L867.8,619.6 L869.8,619.6 L871.8,619.6 L873.8,619.7 L875.8,619.7 L877.8,619.7 L879.8,619.7 L881.8,619.8 L883.8,619.8 L885.8,619.8 L887.8,619.9 L889.8,619.9 L891.8,619.9 L893.8,619.9 L895.8,619.9 L897.8,620.0 L899.8,620.0 L901.8,620.0 L903.8,620.0 L905.8,620.1 L907.9,620.1 L909.9,620.1 L911.9,620.1 L913.9,620.1 L915.9,620.1 L917.9,620.2 L919.9,620.2 L921.9,620.2 L923.9,620.2 L925.9,620.2 L928.0,620.2 L930.0,620.2 L932.0,620.2 L934.0,620.3 L936.0,620.3 L938.0,620.3 L940.0,620.3 L942.0,620.3 L944.1,620.3 L946.1,620.3 L948.1,620.3 L950.1,620.3 L952.1,620.3" fill="none" stroke="#00ff00" stroke-width="7.0" stroke-linecap="round" stroke-linejoin="round" stroke-dasharray="20.66 21.47 2.03 21.27 2.03 21.69" stroke-dashoffset="48.03"/>
<path d="M190.1,14.1 L190.5,16.0 L190.9,18.0 L191.3,19.9 L191.7,21.9 L192.1,23.9 L192.5,25.8 L192.9,27.8 L193.3,29.7 L193.6,31.7 L194.0,33.6 L194.4,35.6 L194.8,37.6 L195.2,39.5 L195.6,41.5 L195.9,43.4 L196.3,45.4 L196.7,47.4 L197.1,49.3 L197.4,51.3 L197.8,53.2 L198.2,55.2 L198.5,57.2 L198.9,59.1 L199.3,61.1 L199.6,63.0 L200.0,65.0 L200.4,67.0 L200.7,68.9 L201.1,70.9 L201.4,72.9 L201.8,74.8 L202.2,76.8 L202.5,78.7 L202.9,80.7 L203.2,82.7 L203.6,84.6 L203.9,86.6 L204.3,88.5 L204.7,90.5 L205.0,92.5 L205.4,94.4 L205.7,96.4 L206.1,98.4 L206.4,100.3 L206.8,102.3 L207.1,104.2 L207.5,106.2 L207.8,108.2 L208.2,110.1 L208.6,112.1 L208.9,114.1 L209.3,116.0 L209.6,118.0 L210.0,119.9 L210.3,121.9 L210.7,123.9 L211.0,125.8 L211.4,127.8 L211.8,129.8 L212.1,131.7 L212.5,133.7 L212.8,135.7 L213.2,137.6 L213.6,139.6 L213.9,141.5 L214.3,143.5 L214.6,145.5 L215.0,147.4 L215.4,149.4 L215.7,151.4 L216.1,153.3 L216.5,155.3 L216.8,157.2 L217.2,159.2 L217.6,161.2 L217.9,163.1 L218.3,165.1 L218.7,167.0 L219.0,169.0 L219.4,171.0 L219.8,172.9 L220.2,174.9 L220.5,176.8 L220.9,178.8 L221.3,180.8 L221.7,182.7 L222.0,184.7 L222.4,186.6 L222.8,188.6 L223.2,190.5 L223.5,192.5 L223.9,194.5 L224.3,196.4 L224.7,198.4 L225.1,200.3 L225.4,202.3 L225.8,204.2 L226.2,206.2 L226.6,208.1 L227.0,210.1 L227.3,212.0 L227.7,214.0 L228.1,216.0 L228.5,217.9 L228.9,219.9 L229.3,221.8 L229.6,223.7 L230.0,225.7 L230.4,227.6 L230.8,229.6 L231.2,231.5 L231.6,233.5 L232.0,235.4 L232.4,237.4 L232.8,239.3 L233.2,241.3 L233.5,243.2 L233.9,245.2 L234.3,247.1 L234.7,249.0 L235.2,251.0 L235.6,252.9 L236.0,254.9 L236.4,256.8 L236.8,258.8 L237.2,260.7 L237.6,262.7 L238.1,264.6 L238.5,266.6 L238.9,268.5 L239.3,270.5 L239.8,272.4 L240.2,274.4 L240.7,276.3 L241.1,278.3 L241.6,280.2 L242.0,282.2 L242.5,284.2 L243.0,286.1 L243.5,288.1 L244.0,290.0 L244.5,291.9 L245.0,293.9 L245.6,295.8 L246.1,297.7 L246.7,299.6 L247.3,301.5 L248.0,303.4 L248.6,305.3 L249.3,307.2 L250.0,309.0 L250.8,310.9 L251.5,312.7 L252.3,314.5 L253.2,316.3 L254.0,318.0 L254.9,319.8 L255.9,321.5 L256.8,323.2 L257.9,324.9 L258.9,326.6 L259.9,328.3 L261.0,329.9 L262.1,331.6 L263.3,333.2 L264.4,334.8 L265.6,336.4 L266.8,338.0 L268.0,339.6 L269.3,341.2 L270.5,342.8 L271.8,344.4 L273.0,345.9 L274.3,347.5 L275.6,349.0 L277.0,350.5 L278.3,352.0 L279.6,353.5 L281.0,355.0 L282.4,356.5 L283.8,357.9 L285.2,359.3 L286.6,360.7 L288.0,362.1 L289.5,363.5 L291.0,364.8 L292.4,366.1 L293.9,367.4 L295.4,368.7 L296.9,370.0 L298.5,371.3 L300.0,372.5 L301.5,373.7 L303.1,375.0 L304.6,376.2 L306.2,377.4 L307.7,378.6 L309.3,379.8 L310.9,381.0 L312.4,382.2 L314.0,383.4 L315.6,384.5 L317.2,385.7 L318.8,386.9 L320.4,388.1 L321.9,389.3 L323.5,390.5 L325.1,391.7 L326.6,393.0 L328.2,394.2 L329.7,395.4 L331.2,396.7 L332.7,398.0 L334.2,399.3 L335.7,400.6 L337.1,402.0 L338.5,403.3 L339.9,404.7 L341.3,406.1 L342.7,407.5 L344.1,408.9 L345.6,410.3 L347.0,411.7 L348.4,413.0 L349.9,414.4 L351.3,415.7 L352.8,417.0 L354.4,418.2 L355.9,419.5 L357.4,420.7 L359.0,421.9 L360.6,423.1 L362.2,424.3 L363.8,425.4 L365.4,426.5 L367.1,427.6 L368.7,428.7 L370.4,429.8 L372.1,430.9 L373.8,431.9 L375.5,433.0 L377.2,434.0 L378.9,435.0 L380.7,436.0 L382.4,436.9 L384.2,437.9 L385.9,438.9 L387.7,439.8 L389.5,440.7 L391.2,441.7 L393.0,442.6 L394.8,443.5 L396.6,444.4 L398.4,445.3 L400.2,446.1 L402.0,447.0 L403.8,447.9 L405.6,448.7 L407.4,449.6 L409.2,450.4 L411.1,451.3 L412.9,452.1 L414.7,452.9 L416.5,453.7 L418.3,454.6 L420.2,455.4 L422.0,456.2 L423.8,456.9 L425.7,457.7 L427.5,458.5 L429.3,459.3 L431.2,460.0 L433.0,460.8 L434.9,461.5 L436.7,462.3 L438.5,463.0 L440.4,463.7 L442.3,464.5 L444.1,465.2 L446.0,465.9 L447.8,466.6 L449.7,467.3 L451.6,468.0 L453.4,468.6 L455.3,469.3 L457.2,470.0 L459.1,470.6 L460.9,471.3 L462.8,471.9 L464.7,472.6 L466.6,473.2 L468.5,473.8 L470.4,474.5 L472.3,475.1 L474.2,475.7 L476.1,476.3 L478.0,476.9 L479.9,477.5 L481.8,478.0 L483.7,478.6 L485.6,479.2 L487.5,479.7 L489.5,480.3 L491.4,480.8 L493.3,481.4 L495.2,481.9 L497.2,482.4 L499.1,482.9 L501.0,483.4 L503.0,484.0 L504.9,484.4 L506.9,484.9 L508.8,485.4 L510.8,485.9 L512.7,486.4 L514.7,486.8 L516.6,487.3 L518.6,487.7 L520.5,488.1 L522.5,488.5 L524.5,488.9 L526.4,489.3 L528.4,489.7 L530.4,490.0 L532.3,490.4 L534.3,490.7 L536.3,491.0 L538.3,491.3 L540.2,491.6 L542.2,491.8 L544.2,492.1 L546.2,492.3 L548.2,492.5 L550.1,492.7 L552.1,492.8 L554.1,493.0 L556.1,493.1 L558.1,493.2 L560.1,493.3 L562.1,493.3 L564.1,493.3 L566.0,493.3 L568.0,493.3 L570.0,493.3 L572.0,493.2 L574.0,493.1 L576.0,493.0 L578.0,492.9 L580.0,492.7 L582.0,492.5 L584.0,492.4 L586.0,492.2 L588.0,492.0 L590.0,491.9 L592.0,491.7 L594.0,491.6 L596.0,491.5 L597.9,491.4 L599.9,491.4 L601.9,491.4 L603.9,491.4 L605.9,491.5 L607.9,491.6 L609.8,491.8 L611.8,491.9 L613.8,492.1 L615.8,492.4 L617.7,492.6 L619.7,492.9 L621.7,493.2 L623.7,493.5 L625.6,493.8 L627.6,494.1 L629.6,494.4 L631.6,494.7 L633.6,495.0 L635.5,495.4 L637.5,495.7 L639.5,496.0 L641.5,496.3 L643.5,496.6 L645.5,496.9 L647.5,497.2 L649.4,497.5 L651.4,497.7 L653.4,498.0 L655.4,498.3 L657.4,498.5 L659.4,498.8 L661.4,499.0 L663.4,499.2 L665.4,499.4 L667.3,499.6 L669.3,499.8 L671.3,499.9 L673.3,500.1 L675.3,500.2 L677.3,500.3 L679.3,500.4 L681.3,500.4 L683.3,500.5 L685.3,500.5 L687.3,500.5 L689.2,500.4 L691.2,500.4 L693.2,500.3 L695.2,500.3 L697.2,500.2 L699.2,500.1 L701.2,499.9 L703.2,499.8 L705.2,499.7 L707.2,499.5 L709.1,499.3 L711.1,499.1 L713.1,499.0 L715.1,498.8 L717.1,498.6 L719.1,498.3 L721.1,498.1 L723.1,497.9 L725.1,497.7 L727.0,497.4 L729.0,497.2 L731.0,497.0 L733.0,496.7 L735.0,496.5 L737.0,496.3 L739.0,496.0 L741.0,495.8 L743.0,495.6 L745.0,495.4 L746.9,495.1 L748.9,494.9 L750.9,494.7 L752.9,494.5 L754.9,494.4 L756.9,494.2 L758.9,494.0 L760.9,493.9 L762.9,493.7 L764.9,493.6 L766.9,493.5 L768.8,493.4 L770.8,493.3 L772.8,493.2 L774.8,493.2 L776.8,493.1 L778.8,493.1 L780.8,493.1 L782.8,493.1 L784.8,493.1 L786.8,493.2 L788.7,493.3 L790.7,493.3 L792.7,493.4 L794.7,493.6 L796.7,493.7 L798.6,493.9 L800.6,494.1 L802.6,494.3 L804.6,494.5 L806.5,494.8 L808.5,495.0 L810.4,495.3 L812.4,495.7 L814.4,496.0 L816.3,496.4 L818.3,496.8 L820.2,497.2 L822.1,497.7 L824.1,498.1 L826.0,498.6 L828.0,499.1 L829.9,499.6 L831.8,500.1 L833.8,500.7 L835.7,501.2 L837.6,501.8 L839.6,502.3 L841.5,502.9 L843.4,503.4 L845.4,504.0 L847.3,504.6 L849.2,505.1 L851.2,505.7 L853.1,506.3 L855.0,506.8 L857.0,507.3 L858.9,507.9 L860.8,508.4 L862.8,508.9 L864.7,509.4 L866.7,509.9 L868.6,510.3 L870.6,510.7 L872.5,511.2 L874.5,511.6 L876.4,511.9 L878.4,512.3 L880.4,512.6 L882.3,513.0 L884.3,513.3 L886.3,513.6 L888.3,513.9 L890.2,514.1 L892.2,514.4 L894.2,514.6 L896.2,514.8 L898.1,515.0 L900.1,515.2 L902.1,515.4 L904.1,515.5 L906.1,515.7 L908.1,515.8 L910.1,515.9 L912.1,516.0 L914.1,516.1 L916.1,516.2 L918.0,516.2 L920.0,516.3 L922.0,516.3 L924.0,516.3 L926.0,516.4 L928.0,516.4 L930.0,516.3 L932.0,516.3 L934.0,516.3 L936.0,516.2 L938.0,516.2 L940.0,516.1 L942.0,516.0 L944.0,516.0 L946.0,515.9 L948.0,515.8 L950.0,515.6 L952.0,515.5" fill="none" stroke="#b820ff" stroke-width="5.6" stroke-linecap="round" stroke-linejoin="round" stroke-dasharray="6.90 19.83" stroke-dashoffset="7.88"/>
<path d="M169.0,14.0 L169.1,16.0 L169.2,18.0 L169.3,20.0 L169.4,22.0 L169.5,24.0 L169.6,26.0 L169.7,28.0 L169.8,30.0 L169.9,31.9 L170.0,33.9 L170.1,35.9 L170.2,37.9 L170.4,39.9 L170.5,41.9 L170.6,43.9 L170.7,45.9 L170.9,47.9 L171.0,49.9 L171.1,51.9 L171.3,53.8 L171.4,55.8 L171.6,57.8 L171.7,59.8 L171.8,61.8 L172.0,63.8 L172.1,65.8 L172.3,67.8 L172.4,69.8 L172.6,71.8 L172.7,73.8 L172.9,75.8 L173.1,77.8 L173.2,79.7 L173.4,81.7 L173.6,83.7 L173.7,85.7 L173.9,87.7 L174.1,89.7 L174.2,91.7 L174.4,93.7 L174.6,95.7 L174.8,97.7 L174.9,99.7 L175.1,101.7 L175.3,103.7 L175.5,105.7 L175.7,107.6 L175.8,109.6 L176.0,111.6 L176.2,113.6 L176.4,115.6 L176.6,117.6 L176.8,119.6 L177.0,121.6 L177.2,123.6 L177.4,125.6 L177.6,127.6 L177.8,129.6 L177.9,131.6 L178.1,133.6 L178.3,135.5 L178.6,137.5 L178.8,139.5 L179.0,141.5 L179.2,143.5 L179.4,145.5 L179.6,147.5 L179.8,149.5 L180.0,151.5 L180.2,153.5 L180.4,155.5 L180.6,157.4 L180.8,159.4 L181.0,161.4 L181.2,163.4 L181.5,165.4 L181.7,167.4 L181.9,169.4 L182.1,171.4 L182.3,173.4 L182.5,175.4 L182.8,177.3 L183.0,179.3 L183.2,181.3 L183.4,183.3 L183.6,185.3 L183.8,187.3 L184.1,189.3 L184.3,191.2 L184.5,193.2 L184.7,195.2 L184.9,197.2 L185.2,199.2 L185.4,201.2 L185.6,203.2 L185.8,205.1 L186.0,207.1 L186.3,209.1 L186.5,211.1 L186.7,213.1 L186.9,215.1 L187.2,217.0 L187.4,219.0 L187.6,221.0 L187.8,223.0 L188.0,225.0 L188.3,226.9 L188.5,228.9 L188.7,230.9 L188.9,232.9 L189.2,234.9 L189.4,236.8 L189.6,238.8 L189.8,240.8 L190.1,242.8 L190.3,244.8 L190.5,246.7 L190.7,248.7 L191.0,250.7 L191.2,252.7 L191.4,254.7 L191.7,256.6 L191.9,258.6 L192.2,260.6 L192.4,262.6 L192.6,264.5 L192.9,266.5 L193.1,268.5 L193.4,270.5 L193.6,272.4 L193.9,274.4 L194.1,276.4 L194.4,278.4 L194.6,280.4 L194.9,282.3 L195.1,284.3 L195.4,286.3 L195.6,288.3 L195.9,290.2 L196.2,292.2 L196.4,294.2 L196.7,296.2 L197.0,298.2 L197.3,300.1 L197.5,302.1 L197.8,304.1 L198.1,306.1 L198.4,308.0 L198.7,310.0 L199.0,312.0 L199.3,314.0 L199.6,316.0 L199.9,317.9 L200.2,319.9 L200.5,321.9 L200.8,323.9 L201.1,325.9 L201.4,327.9 L201.7,329.8 L202.1,331.8 L202.4,333.8 L202.7,335.8 L203.1,337.8 L203.4,339.8 L203.7,341.7 L204.1,343.7 L204.4,345.7 L204.8,347.7 L205.2,349.7 L205.5,351.7 L205.9,353.6 L206.3,355.6 L206.7,357.6 L207.1,359.6 L207.5,361.6 L207.9,363.5 L208.3,365.5 L208.7,367.5 L209.1,369.4 L209.6,371.4 L210.0,373.4 L210.5,375.3 L211.0,377.3 L211.4,379.2 L211.9,381.2 L212.5,383.1 L213.0,385.0 L213.5,387.0 L214.0,388.9 L214.6,390.8 L215.2,392.7 L215.8,394.6 L216.4,396.5 L217.0,398.4 L217.6,400.3 L218.3,402.2 L218.9,404.0 L219.6,405.9 L220.3,407.8 L221.0,409.6 L221.7,411.4 L222.5,413.3 L223.2,415.1 L224.0,416.9 L224.8,418.7 L225.7,420.5 L226.5,422.2 L227.4,424.0 L228.3,425.8 L229.2,427.5 L230.1,429.2 L231.0,431.0 L232.0,432.7 L233.0,434.4 L234.0,436.1 L235.1,437.7 L236.1,439.4 L237.2,441.0 L238.3,442.7 L239.5,444.3 L240.6,445.9 L241.8,447.5 L243.0,449.1 L244.2,450.6 L245.5,452.2 L246.7,453.8 L248.0,455.3 L249.3,456.8 L250.6,458.3 L251.9,459.9 L253.3,461.4 L254.6,462.8 L256.0,464.3 L257.4,465.8 L258.8,467.3 L260.2,468.7 L261.6,470.2 L263.0,471.6 L264.4,473.1 L265.8,474.5 L267.3,476.0 L268.7,477.4 L270.1,478.8 L271.6,480.2 L273.0,481.6 L274.5,483.0 L275.9,484.4 L277.4,485.8 L278.8,487.2 L280.3,488.6 L281.7,490.0 L283.2,491.4 L284.7,492.8 L286.1,494.2 L287.6,495.5 L289.0,496.9 L290.5,498.3 L292.0,499.6 L293.4,501.0 L294.9,502.3 L296.4,503.7 L297.9,505.0 L299.4,506.3 L300.9,507.7 L302.3,509.0 L303.9,510.3 L305.4,511.6 L306.9,512.9 L308.4,514.2 L309.9,515.5 L311.5,516.8 L313.0,518.1 L314.6,519.3 L316.1,520.6 L317.7,521.8 L319.3,523.0 L320.9,524.2 L322.5,525.4 L324.1,526.5 L325.8,527.6 L327.4,528.7 L329.1,529.7 L330.8,530.7 L332.5,531.7 L334.3,532.6 L336.0,533.5 L337.8,534.3 L339.6,535.1 L341.4,535.9 L343.2,536.6 L345.1,537.3 L346.9,538.0 L348.8,538.6 L350.6,539.3 L352.5,539.9 L354.4,540.4 L356.3,541.0 L358.2,541.5 L360.2,542.0 L362.1,542.5 L364.0,543.0 L365.9,543.4 L367.9,543.9 L369.8,544.3 L371.8,544.8 L373.7,545.2 L375.7,545.6 L377.6,546.0 L379.6,546.4 L381.5,546.9 L383.5,547.3 L385.4,547.7 L387.4,548.1 L389.3,548.5 L391.3,549.0 L393.2,549.4 L395.2,549.9 L397.1,550.4 L399.1,550.9 L401.0,551.4 L402.9,551.9 L404.9,552.5 L406.8,553.1 L408.7,553.7 L410.6,554.3 L412.5,554.9 L414.5,555.6 L416.4,556.3 L418.3,557.0 L420.2,557.6 L422.0,558.3 L423.9,559.0 L425.8,559.7 L427.7,560.4 L429.6,561.0 L431.6,561.6 L433.5,562.2 L435.4,562.8 L437.3,563.4 L439.2,563.9 L441.1,564.4 L443.1,564.9 L445.0,565.4 L446.9,565.8 L448.9,566.2 L450.8,566.6 L452.8,567.0 L454.7,567.4 L456.7,567.7 L458.6,568.0 L460.6,568.3 L462.6,568.6 L464.5,568.9 L466.5,569.2 L468.5,569.4 L470.4,569.6 L472.4,569.8 L474.4,570.0 L476.4,570.2 L478.4,570.4 L480.4,570.6 L482.3,570.7 L484.3,570.8 L486.3,571.0 L488.3,571.1 L490.3,571.2 L492.3,571.3 L494.3,571.4 L496.3,571.5 L498.3,571.6 L500.3,571.7 L502.3,571.7 L504.3,571.8 L506.3,571.8 L508.3,571.9 L510.3,572.0 L512.3,572.0 L514.3,572.1 L516.3,572.1 L518.3,572.1 L520.3,572.2 L522.3,572.2 L524.3,572.3 L526.4,572.3 L528.4,572.4 L530.4,572.4 L532.4,572.5 L534.4,572.5 L536.4,572.6 L538.4,572.7 L540.4,572.7 L542.4,572.8 L544.4,572.9 L546.4,573.0 L548.4,573.1 L550.4,573.2 L552.4,573.3 L554.4,573.4 L556.4,573.5 L558.4,573.7 L560.3,573.8 L562.3,574.0 L564.3,574.2 L566.3,574.4 L568.3,574.6 L570.3,574.8 L572.2,575.0 L574.2,575.3 L576.2,575.5 L578.2,575.8 L580.1,576.1 L582.1,576.4 L584.1,576.7 L586.0,577.0 L588.0,577.3 L589.9,577.6 L591.9,578.0 L593.9,578.3 L595.8,578.7 L597.8,579.1 L599.7,579.4 L601.7,579.8 L603.6,580.2 L605.6,580.6 L607.5,581.0 L609.5,581.5 L611.4,581.9 L613.4,582.3 L615.3,582.8 L617.2,583.2 L619.2,583.7 L621.1,584.1 L623.1,584.6 L625.0,585.0 L626.9,585.5 L628.9,586.0 L630.8,586.4 L632.8,586.9 L634.7,587.4 L636.6,587.9 L638.6,588.4 L640.5,588.8 L642.4,589.3 L644.4,589.8 L646.3,590.3 L648.3,590.8 L650.2,591.3 L652.1,591.7 L654.1,592.2 L656.0,592.7 L657.9,593.2 L659.9,593.7 L661.8,594.2 L663.8,594.6 L665.7,595.1 L667.6,595.6 L669.6,596.0 L671.5,596.5 L673.5,596.9 L675.4,597.4 L677.4,597.8 L679.3,598.3 L681.3,598.7 L683.2,599.2 L685.2,599.6 L687.1,600.0 L689.1,600.4 L691.0,600.8 L693.0,601.2 L694.9,601.6 L696.9,602.0 L698.8,602.3 L700.8,602.7 L702.8,603.0 L704.7,603.4 L706.7,603.7 L708.7,604.0 L710.6,604.3 L712.6,604.6 L714.6,604.9 L716.5,605.2 L718.5,605.5 L720.5,605.7 L722.5,606.0 L724.5,606.2 L726.4,606.5 L728.4,606.7 L730.4,606.9 L732.4,607.1 L734.4,607.3 L736.4,607.5 L738.4,607.7 L740.4,607.9 L742.4,608.1 L744.4,608.2 L746.3,608.4 L748.3,608.5 L750.3,608.7 L752.3,608.8 L754.3,609.0 L756.3,609.1 L758.3,609.2 L760.3,609.4 L762.3,609.5 L764.3,609.6 L766.3,609.7 L768.3,609.9 L770.3,610.0 L772.3,610.1 L774.3,610.2 L776.4,610.3 L778.4,610.4 L780.4,610.5 L782.4,610.6 L784.4,610.7 L786.4,610.8 L788.4,610.9 L790.4,611.0 L792.4,611.1 L794.4,611.2 L796.4,611.3 L798.4,611.4 L800.4,611.5 L802.4,611.6 L804.4,611.7 L806.4,611.8 L808.4,611.9 L810.4,612.0 L812.4,612.1 L814.4,612.2 L816.4,612.3 L818.4,612.4 L820.4,612.6 L822.4,612.7 L824.4,612.8 L826.4,612.9 L828.3,613.1 L830.3,613.2 L832.3,613.3 L834.3,613.5 L836.3,613.6 L838.3,613.7 L840.3,613.9 L842.3,614.0 L844.3,614.1 L846.3,614.3 L848.3,614.4 L850.2,614.5 L852.2,614.7 L854.2,614.8 L856.2,615.0 L858.2,615.1 L860.2,615.2 L862.2,615.4 L864.2,615.5 L866.1,615.6 L868.1,615.8 L870.1,615.9 L872.1,616.0 L874.1,616.2 L876.1,616.3 L878.1,616.4 L880.1,616.5 L882.1,616.6 L884.0,616.8 L886.0,616.9 L888.0,617.0 L890.0,617.1 L892.0,617.2 L894.0,617.3 L896.0,617.4 L898.0,617.5 L900.0,617.6 L902.0,617.7 L904.0,617.8 L905.9,617.8 L907.9,617.9 L909.9,618.0 L911.9,618.1 L913.9,618.1 L915.9,618.2 L917.9,618.2 L919.9,618.3 L921.9,618.3 L923.9,618.4 L925.9,618.4 L927.9,618.4 L929.9,618.4 L931.9,618.4 L933.9,618.5 L935.9,618.5 L937.9,618.4 L940.0,618.4 L942.0,618.4 L944.0,618.4 L946.0,618.4 L948.0,618.3 L950.0,618.3 L952.0,618.2" fill="none" stroke="#ff00ff" stroke-width="6.4" stroke-linecap="round" stroke-linejoin="round" stroke-dasharray="0.01 11.66" stroke-dashoffset="8.45"/>
<path d="M180.3,14.1 L180.6,16.0 L180.8,18.0 L181.1,20.0 L181.4,21.9 L181.7,23.9 L181.9,25.8 L182.2,27.8 L182.5,29.8 L182.8,31.8 L183.0,33.7 L183.3,35.7 L183.6,37.7 L183.9,39.7 L184.2,41.6 L184.4,43.6 L184.7,45.6 L185.0,47.6 L185.3,49.6 L185.6,51.5 L185.9,53.5 L186.2,55.5 L186.5,57.5 L186.8,59.5 L187.1,61.5 L187.4,63.4 L187.7,65.4 L188.0,67.4 L188.3,69.4 L188.7,71.4 L189.0,73.3 L189.3,75.3 L189.7,77.3 L190.0,79.3 L190.3,81.3 L190.7,83.2 L191.1,85.2 L191.4,87.2 L191.8,89.1 L192.2,91.1 L192.6,93.1 L193.0,95.0 L193.4,97.0 L193.8,99.0 L194.2,100.9 L194.6,102.9 L195.0,104.8 L195.5,106.8 L195.9,108.7 L196.4,110.7 L196.8,112.6 L197.3,114.6 L197.8,116.5 L198.3,118.5 L198.8,120.4 L199.3,122.3 L199.8,124.2 L200.3,126.2 L200.9,128.1 L201.4,130.0 L202.0,131.9 L202.6,133.8 L203.1,135.7 L203.7,137.6 L204.3,139.5 L204.9,141.4 L205.6,143.3 L206.2,145.2 L206.8,147.1 L207.5,149.0 L208.1,150.8 L208.8,152.7 L209.4,154.6 L210.1,156.5 L210.8,158.3 L211.5,160.2 L212.2,162.1 L212.9,163.9 L213.6,165.8 L214.3,167.7 L215.0,169.5 L215.7,171.4 L216.4,173.2 L217.2,175.1 L217.9,177.0 L218.6,178.8 L219.4,180.7 L220.1,182.5 L220.8,184.4 L221.6,186.2 L222.3,188.1 L223.1,189.9 L223.8,191.8 L224.6,193.6 L225.3,195.5 L226.1,197.3 L226.9,199.2 L227.6,201.0 L228.4,202.9 L229.1,204.7 L229.9,206.6 L230.6,208.5 L231.4,210.3 L232.1,212.2 L232.9,214.0 L233.6,215.9 L234.4,217.8 L235.1,219.6 L235.8,221.5 L236.6,223.3 L237.3,225.2 L238.0,227.1 L238.8,229.0 L239.5,230.8 L240.2,232.7 L240.9,234.6 L241.6,236.5 L242.3,238.3 L243.0,240.2 L243.8,242.1 L244.5,244.0 L245.2,245.8 L245.9,247.7 L246.7,249.6 L247.4,251.4 L248.2,253.3 L248.9,255.1 L249.7,257.0 L250.4,258.8 L251.2,260.6 L252.0,262.5 L252.8,264.3 L253.7,266.1 L254.5,267.9 L255.4,269.7 L256.2,271.5 L257.1,273.2 L258.0,275.0 L259.0,276.7 L259.9,278.5 L260.9,280.2 L261.9,281.9 L262.9,283.6 L263.9,285.3 L265.0,287.0 L266.1,288.6 L267.2,290.3 L268.3,291.9 L269.5,293.5 L270.6,295.1 L271.8,296.7 L273.0,298.3 L274.2,299.9 L275.4,301.5 L276.7,303.0 L278.0,304.6 L279.2,306.1 L280.5,307.7 L281.8,309.2 L283.1,310.7 L284.4,312.3 L285.7,313.8 L287.1,315.3 L288.4,316.8 L289.7,318.3 L291.1,319.8 L292.4,321.3 L293.8,322.7 L295.1,324.2 L296.5,325.7 L297.8,327.2 L299.2,328.7 L300.5,330.2 L301.8,331.6 L303.2,333.1 L304.5,334.6 L305.9,336.1 L307.2,337.6 L308.5,339.0 L309.8,340.5 L311.1,342.0 L312.5,343.5 L313.8,345.0 L315.1,346.5 L316.4,348.0 L317.7,349.5 L318.9,351.0 L320.2,352.5 L321.5,354.1 L322.8,355.6 L324.0,357.1 L325.3,358.7 L326.5,360.2 L327.8,361.8 L329.0,363.3 L330.2,364.9 L331.4,366.5 L332.7,368.0 L333.9,369.6 L335.0,371.2 L336.2,372.8 L337.4,374.5 L338.6,376.1 L339.7,377.7 L340.9,379.4 L342.0,381.0 L343.1,382.7 L344.3,384.4 L345.4,386.1 L346.5,387.8 L347.6,389.5 L348.7,391.2 L349.8,392.9 L350.9,394.6 L352.0,396.3 L353.1,398.0 L354.2,399.7 L355.3,401.5 L356.4,403.2 L357.5,404.8 L358.6,406.5 L359.7,408.2 L360.9,409.9 L362.0,411.5 L363.2,413.1 L364.4,414.8 L365.6,416.4 L366.8,417.9 L368.0,419.5 L369.2,421.0 L370.5,422.6 L371.8,424.1 L373.1,425.5 L374.4,427.0 L375.8,428.4 L377.1,429.9 L378.5,431.3 L379.9,432.7 L381.3,434.0 L382.7,435.4 L384.1,436.7 L385.5,438.1 L387.0,439.4 L388.5,440.7 L389.9,442.0 L391.4,443.3 L392.9,444.6 L394.4,445.9 L395.9,447.2 L397.4,448.4 L399.0,449.7 L400.5,451.0 L402.1,452.2 L403.6,453.5 L405.2,454.7 L406.7,456.0 L408.3,457.2 L409.8,458.5 L411.4,459.7 L413.0,461.0 L414.6,462.2 L416.1,463.5 L417.7,464.8 L419.3,466.0 L420.9,467.3 L422.5,468.5 L424.1,469.8 L425.7,471.0 L427.3,472.3 L428.9,473.5 L430.5,474.7 L432.1,476.0 L433.7,477.2 L435.4,478.4 L437.0,479.6 L438.6,480.8 L440.3,482.0 L441.9,483.2 L443.6,484.3 L445.2,485.5 L446.9,486.6 L448.6,487.7 L450.2,488.9 L451.9,490.0 L453.6,491.0 L455.3,492.1 L457.0,493.2 L458.7,494.2 L460.5,495.2 L462.2,496.2 L463.9,497.2 L465.7,498.1 L467.4,499.1 L469.2,500.0 L471.0,500.9 L472.7,501.8 L474.5,502.6 L476.3,503.4 L478.1,504.2 L479.9,505.0 L481.8,505.8 L483.6,506.5 L485.4,507.2 L487.3,507.8 L489.2,508.5 L491.0,509.1 L492.9,509.6 L494.8,510.2 L496.7,510.7 L498.6,511.2 L500.6,511.7 L502.5,512.1 L504.4,512.5 L506.4,512.9 L508.3,513.2 L510.3,513.6 L512.2,513.9 L514.2,514.2 L516.2,514.4 L518.2,514.7 L520.2,514.9 L522.1,515.1 L524.1,515.3 L526.1,515.5 L528.1,515.6 L530.1,515.7 L532.2,515.8 L534.2,515.9 L536.2,516.0 L538.2,516.1 L540.2,516.1 L542.2,516.1 L544.2,516.1 L546.3,516.1 L548.3,516.1 L550.3,516.1 L552.3,516.1 L554.3,516.0 L556.3,516.0 L558.3,515.9 L560.3,515.8 L562.3,515.7 L564.3,515.6 L566.3,515.5 L568.3,515.4 L570.3,515.3 L572.3,515.3 L574.3,515.2 L576.3,515.2 L578.2,515.2 L580.2,515.2 L582.2,515.3 L584.1,515.5 L586.1,515.8 L588.0,516.1 L590.0,516.4 L591.9,516.9 L593.9,517.3 L595.8,517.8 L597.7,518.4 L599.6,519.0 L601.6,519.6 L603.5,520.3 L605.4,521.0 L607.2,521.7 L609.1,522.4 L611.0,523.1 L612.8,523.9 L614.7,524.7 L616.5,525.4 L618.4,526.2 L620.2,527.0 L622.0,527.7 L623.9,528.5 L625.7,529.3 L627.6,530.1 L629.4,530.8 L631.3,531.6 L633.1,532.3 L635.0,533.1 L636.9,533.8 L638.7,534.5 L640.6,535.2 L642.5,536.0 L644.4,536.7 L646.3,537.3 L648.2,538.0 L650.1,538.7 L652.0,539.3 L653.9,540.0 L655.8,540.6 L657.7,541.2 L659.6,541.8 L661.5,542.4 L663.5,543.0 L665.4,543.6 L667.3,544.1 L669.3,544.7 L671.2,545.2 L673.1,545.7 L675.1,546.2 L677.0,546.7 L679.0,547.2 L680.9,547.6 L682.9,548.0 L684.8,548.5 L686.8,548.9 L688.7,549.2 L690.7,549.6 L692.7,549.9 L694.6,550.3 L696.6,550.6 L698.6,550.8 L700.5,551.1 L702.5,551.3 L704.5,551.6 L706.5,551.8 L708.4,552.0 L710.4,552.1 L712.4,552.2 L714.4,552.4 L716.4,552.4 L718.4,552.5 L720.3,552.6 L722.3,552.6 L724.3,552.6 L726.3,552.6 L728.3,552.5 L730.3,552.5 L732.3,552.4 L734.3,552.3 L736.3,552.2 L738.3,552.1 L740.3,551.9 L742.2,551.8 L744.2,551.6 L746.2,551.4 L748.2,551.3 L750.2,551.1 L752.2,550.9 L754.2,550.7 L756.2,550.5 L758.2,550.3 L760.2,550.1 L762.2,549.8 L764.2,549.6 L766.2,549.4 L768.2,549.2 L770.2,549.0 L772.2,548.8 L774.2,548.6 L776.2,548.4 L778.2,548.2 L780.2,548.0 L782.2,547.8 L784.2,547.7 L786.2,547.5 L788.2,547.4 L790.2,547.2 L792.2,547.1 L794.2,547.0 L796.2,546.9 L798.2,546.8 L800.2,546.7 L802.2,546.7 L804.2,546.6 L806.2,546.5 L808.2,546.5 L810.2,546.5 L812.2,546.4 L814.2,546.4 L816.2,546.4 L818.2,546.4 L820.2,546.4 L822.2,546.4 L824.2,546.5 L826.2,546.5 L828.1,546.5 L830.1,546.6 L832.1,546.6 L834.1,546.7 L836.1,546.7 L838.1,546.8 L840.1,546.9 L842.1,546.9 L844.1,547.0 L846.1,547.1 L848.1,547.2 L850.1,547.3 L852.1,547.4 L854.1,547.5 L856.1,547.6 L858.1,547.7 L860.1,547.8 L862.1,547.9 L864.1,548.0 L866.1,548.1 L868.1,548.2 L870.0,548.3 L872.0,548.5 L874.0,548.6 L876.0,548.7 L878.0,548.8 L880.0,548.9 L882.0,549.0 L884.0,549.2 L886.0,549.3 L888.0,549.4 L890.0,549.5 L892.0,549.6 L894.0,549.7 L896.0,549.8 L898.0,549.9 L900.0,550.0 L902.0,550.1 L904.0,550.2 L906.0,550.3 L908.0,550.4 L910.0,550.5 L912.0,550.6 L914.0,550.7 L916.0,550.7 L918.0,550.8 L920.0,550.9 L922.0,550.9 L924.0,551.0 L926.0,551.0 L928.0,551.0 L930.0,551.1 L932.0,551.1 L934.0,551.1 L936.0,551.1 L938.0,551.1 L940.0,551.1 L942.0,551.1 L944.0,551.1 L946.0,551.1 L948.0,551.0 L950.0,551.0 L952.0,550.9" fill="none" stroke="#ff0000" stroke-width="5.8" stroke-linecap="round" stroke-linejoin="round" stroke-dasharray="14.71 14.86 0.10 16.87" stroke-dashoffset="25.75"/>
</g>
<g font-family="Liberation Serif, serif" font-weight="bold" fill="#000">
<text transform="translate(86.0,34.6) scale(1,1.030)" font-size="50" text-anchor="middle">2</text>
<text transform="translate(85.0,340.7) scale(1,1.060)" font-size="50" text-anchor="middle">1</text>
<text transform="translate(86.0,645.7) scale(1,1.045)" font-size="50" text-anchor="middle">0</text>
<text transform="translate(111.7,691.8) scale(1,1.05)" font-size="50" text-anchor="middle">300</text>
<text transform="translate(279.1,691.8) scale(1,1.05)" font-size="50" text-anchor="middle">400</text>
<text transform="translate(446.5,691.8) scale(1,1.05)" font-size="50" text-anchor="middle">500</text>
<text transform="translate(613.8,691.8) scale(1,1.05)" font-size="50" text-anchor="middle">600</text>
<text transform="translate(781.2,691.8) scale(1,1.05)" font-size="50" text-anchor="middle">700</text>
<text transform="translate(948.6,691.8) scale(1,1.05)" font-size="50" text-anchor="middle">800</text>
<text x="531.3" y="760" font-size="50" text-anchor="middle">Wavelength (nm)</text>
<text transform="translate(35.8,287.3) rotate(-90)" font-size="50" text-anchor="middle">Absorbance (a.u.)</text>
<line x1="382.8" y1="51.1" x2="488.0" y2="51.1" stroke="#000000" stroke-width="5.5" stroke-linecap="round"/>
<text transform="translate(510.5,57.1) scale(1.200,1)" font-size="29.0">TiO<tspan font-size="18.5" dy="12.0">2</tspan><tspan dy="-12.0"> bulk</tspan></text>
<line x1="382.3" y1="103.3" x2="489.0" y2="103.3" stroke="#ff8800" stroke-width="4.8" stroke-linecap="round" stroke-dasharray="25 29.5"/>
<text transform="translate(510.5,109.6) scale(1.221,1)" font-size="29.0">TiO<tspan font-size="18.5" dy="12.0">2</tspan><tspan dy="-12.0"> (101) surface</tspan></text>
<line x1="382.2" y1="159.5" x2="482.0" y2="159.5" stroke="#0008ff" stroke-width="6.6" stroke-linecap="round" stroke-dasharray="0.01 10.7"/>
<text transform="translate(510.5,162.5) scale(1.211,1)" font-size="29.0">g-C<tspan font-size="18.5" dy="12.0">3</tspan><tspan dy="-12.0">N</tspan><tspan font-size="18.5" dy="12.0">4</tspan><tspan dy="-12.0"> monolayer</tspan></text>
<line x1="386.1" y1="213.0" x2="488.1" y2="213.0" stroke="#00ff00" stroke-width="7.0" stroke-linecap="round" stroke-dasharray="19.7 17.8 2 19.5 2 20.5"/>
<text transform="translate(510.5,216.2) scale(1.217,1)" font-size="29.0">g-C<tspan font-size="18.5" dy="12.0">3</tspan><tspan dy="-12.0">N</tspan><tspan font-size="18.5" dy="12.0">4</tspan><tspan dy="-12.0">/TiO</tspan><tspan font-size="18.5" dy="12.0">2</tspan><tspan dy="-12.0"></tspan></text>
<line x1="383.8" y1="263.6" x2="489.8" y2="263.6" stroke="#b820ff" stroke-width="5.6" stroke-linecap="round" stroke-dasharray="8.9 15.9"/>
<text transform="translate(510.5,269.7) scale(1.221,1)" font-size="29.0">C-doped g-C<tspan font-size="18.5" dy="12.0">3</tspan><tspan dy="-12.0">N</tspan><tspan font-size="18.5" dy="12.0">4</tspan><tspan dy="-12.0">/TiO</tspan><tspan font-size="18.5" dy="12.0">2</tspan><tspan dy="-12.0"></tspan></text>
<line x1="383.2" y1="315.9" x2="482.0" y2="315.9" stroke="#ff00ff" stroke-width="6.4" stroke-linecap="round" stroke-dasharray="0.01 10.75"/>
<text transform="translate(510.5,322.5) scale(1.209,1)" font-size="29.0">B-doped g-C<tspan font-size="18.5" dy="12.0">3</tspan><tspan dy="-12.0">N</tspan><tspan font-size="18.5" dy="12.0">4</tspan><tspan dy="-12.0">/TiO</tspan><tspan font-size="18.5" dy="12.0">2</tspan><tspan dy="-12.0"></tspan></text>
<line x1="383.4" y1="368.2" x2="485.5" y2="368.2" stroke="#ff0000" stroke-width="5.8" stroke-linecap="round" stroke-dasharray="15.5 14.3 0.1 13.3"/>
<text transform="translate(510.5,375.5) scale(1.209,1)" font-size="29.0">C&amp;B-codoped g-C<tspan font-size="18.5" dy="12.0">3</tspan><tspan dy="-12.0">N</tspan><tspan font-size="18.5" dy="12.0">4</tspan><tspan dy="-12.0">/TiO</tspan><tspan font-size="18.5" dy="12.0">2</tspan><tspan dy="-12.0"></tspan></text>
</g>
</svg>
</body></html>
